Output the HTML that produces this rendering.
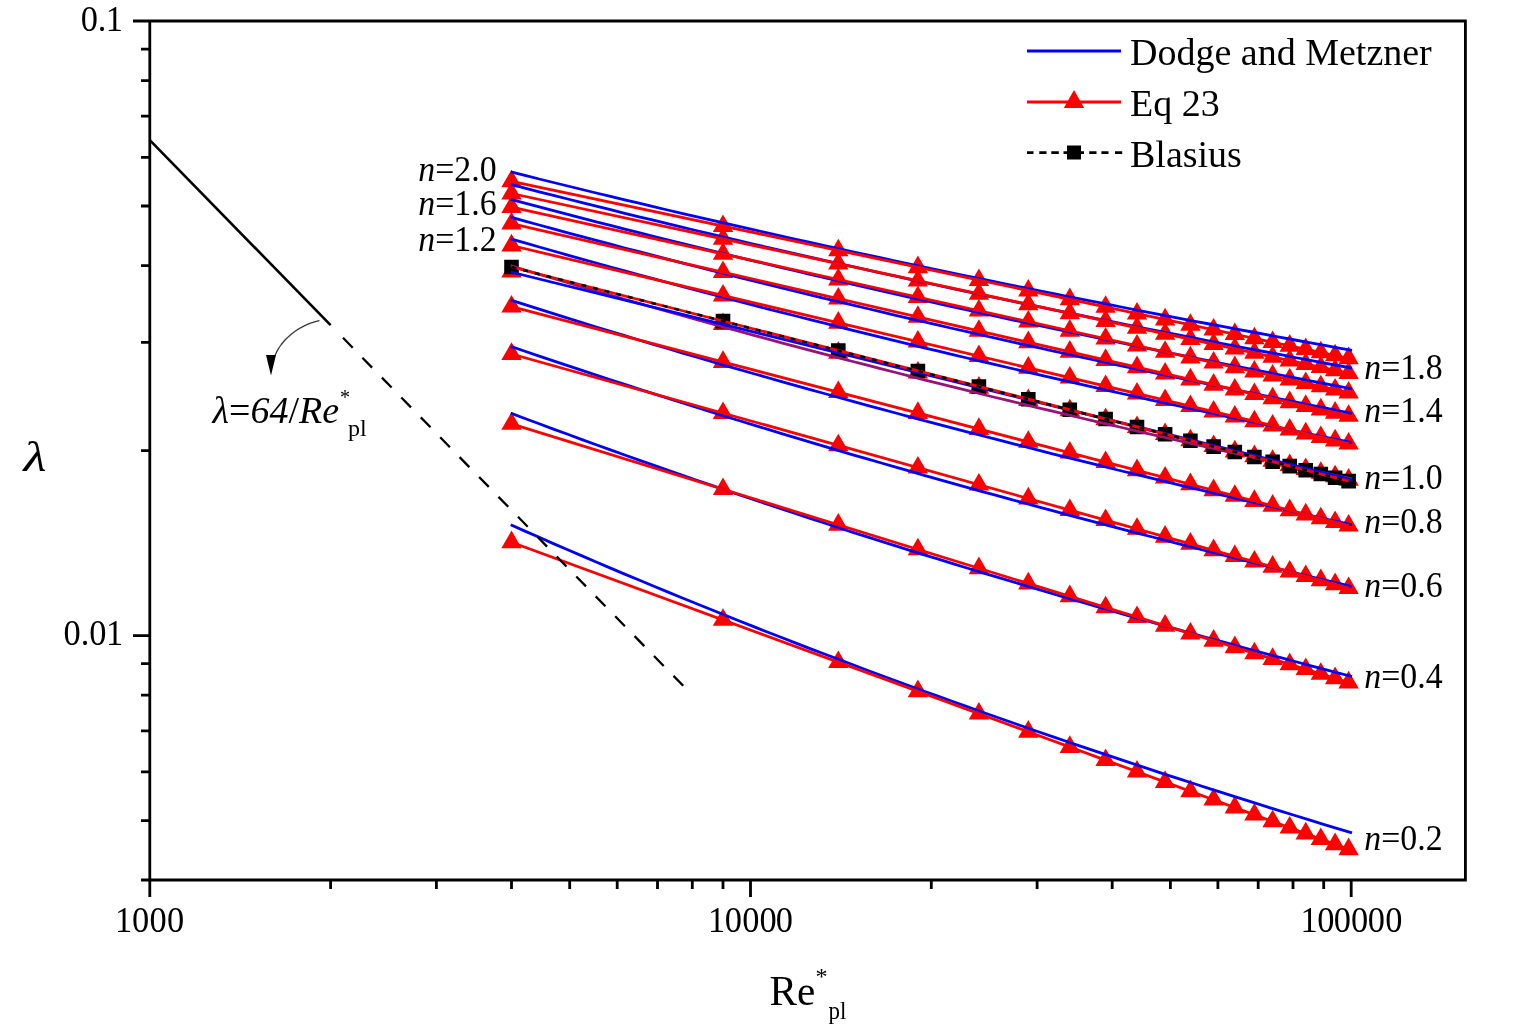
<!DOCTYPE html>
<html><head><meta charset="utf-8"><title>Friction factor chart</title>
<style>
html,body{margin:0;padding:0;background:#fff;}
body{width:1525px;height:1030px;overflow:hidden;}
svg{display:block;}
text{font-family:"Liberation Serif","Times New Roman",serif;fill:#000;}
</style></head><body>
<svg width="1525" height="1030" viewBox="0 0 1525 1030">
<rect x="0" y="0" width="1525" height="1030" fill="#fff"/>

<path id="eq23sym" d="M511.5 530.6L521.7 548.2L501.3 548.2ZM723.0 608.2L733.2 625.8L712.8 625.8ZM838.3 650.4L848.5 668.0L828.1 668.0ZM917.9 679.6L928.1 697.2L907.7 697.2ZM978.9 702.0L989.1 719.6L968.7 719.6ZM1028.3 720.1L1038.5 737.7L1018.1 737.7ZM1069.8 735.3L1080.0 752.9L1059.6 752.9ZM1105.6 748.4L1115.8 766.0L1095.4 766.0ZM1137.0 760.0L1147.2 777.6L1126.8 777.6ZM1165.1 770.3L1175.3 787.9L1154.9 787.9ZM1190.4 779.6L1200.6 797.2L1180.2 797.2ZM1213.6 788.0L1223.8 805.6L1203.4 805.6ZM1234.8 795.8L1245.0 813.4L1224.6 813.4ZM1254.4 803.0L1264.6 820.6L1244.2 820.6ZM1272.6 809.7L1282.8 827.3L1262.4 827.3ZM1289.7 816.0L1299.9 833.6L1279.5 833.6ZM1305.7 821.8L1315.9 839.4L1295.5 839.4ZM1320.8 827.4L1331.0 845.0L1310.6 845.0ZM1335.1 832.6L1345.3 850.2L1324.9 850.2ZM1348.6 837.6L1358.8 855.2L1338.4 855.2ZM511.5 412.2L521.7 429.8L501.3 429.8ZM723.0 477.5L733.2 495.1L712.8 495.1ZM838.3 513.1L848.5 530.7L828.1 530.7ZM917.9 537.7L928.1 555.3L907.7 555.3ZM978.9 556.6L989.1 574.2L968.7 574.2ZM1028.3 571.8L1038.5 589.4L1018.1 589.4ZM1069.8 584.6L1080.0 602.2L1059.6 602.2ZM1105.6 595.7L1115.8 613.3L1095.4 613.3ZM1137.0 605.4L1147.2 623.0L1126.8 623.0ZM1165.1 614.1L1175.3 631.7L1154.9 631.7ZM1190.4 621.9L1200.6 639.5L1180.2 639.5ZM1213.6 629.1L1223.8 646.7L1203.4 646.7ZM1234.8 635.6L1245.0 653.2L1224.6 653.2ZM1254.4 641.7L1264.6 659.3L1244.2 659.3ZM1272.6 647.3L1282.8 664.9L1262.4 664.9ZM1289.7 652.6L1299.9 670.2L1279.5 670.2ZM1305.7 657.5L1315.9 675.1L1295.5 675.1ZM1320.8 662.2L1331.0 679.8L1310.6 679.8ZM1335.1 666.6L1345.3 684.2L1324.9 684.2ZM1348.6 670.8L1358.8 688.4L1338.4 688.4ZM511.5 342.3L521.7 359.9L501.3 359.9ZM723.0 401.4L733.2 419.0L712.8 419.0ZM838.3 433.7L848.5 451.3L828.1 451.3ZM917.9 455.9L928.1 473.5L907.7 473.5ZM978.9 473.0L989.1 490.6L968.7 490.6ZM1028.3 486.8L1038.5 504.4L1018.1 504.4ZM1069.8 498.4L1080.0 516.0L1059.6 516.0ZM1105.6 508.4L1115.8 526.0L1095.4 526.0ZM1137.0 517.2L1147.2 534.8L1126.8 534.8ZM1165.1 525.1L1175.3 542.7L1154.9 542.7ZM1190.4 532.1L1200.6 549.7L1180.2 549.7ZM1213.6 538.6L1223.8 556.2L1203.4 556.2ZM1234.8 544.5L1245.0 562.1L1224.6 562.1ZM1254.4 550.0L1264.6 567.6L1244.2 567.6ZM1272.6 555.1L1282.8 572.7L1262.4 572.7ZM1289.7 559.9L1299.9 577.5L1279.5 577.5ZM1305.7 564.4L1315.9 582.0L1295.5 582.0ZM1320.8 568.6L1331.0 586.2L1310.6 586.2ZM1335.1 572.6L1345.3 590.2L1324.9 590.2ZM1348.6 576.4L1358.8 594.0L1338.4 594.0ZM511.5 295.0L521.7 312.6L501.3 312.6ZM723.0 350.3L733.2 367.9L712.8 367.9ZM838.3 380.5L848.5 398.1L828.1 398.1ZM917.9 401.3L928.1 418.9L907.7 418.9ZM978.9 417.3L989.1 434.9L968.7 434.9ZM1028.3 430.2L1038.5 447.8L1018.1 447.8ZM1069.8 441.0L1080.0 458.6L1059.6 458.6ZM1105.6 450.4L1115.8 468.0L1095.4 468.0ZM1137.0 458.6L1147.2 476.2L1126.8 476.2ZM1165.1 466.0L1175.3 483.6L1154.9 483.6ZM1190.4 472.6L1200.6 490.2L1180.2 490.2ZM1213.6 478.6L1223.8 496.2L1203.4 496.2ZM1234.8 484.2L1245.0 501.8L1224.6 501.8ZM1254.4 489.3L1264.6 506.9L1244.2 506.9ZM1272.6 494.1L1282.8 511.7L1262.4 511.7ZM1289.7 498.6L1299.9 516.2L1279.5 516.2ZM1305.7 502.8L1315.9 520.4L1295.5 520.4ZM1320.8 506.7L1331.0 524.3L1310.6 524.3ZM1335.1 510.4L1345.3 528.0L1324.9 528.0ZM1348.6 514.0L1358.8 531.6L1338.4 531.6ZM511.5 259.9L521.7 277.5L501.3 277.5ZM723.0 312.5L733.2 330.1L712.8 330.1ZM838.3 341.2L848.5 358.8L828.1 358.8ZM917.9 361.0L928.1 378.6L907.7 378.6ZM978.9 376.1L989.1 393.7L968.7 393.7ZM1028.3 388.4L1038.5 406.0L1018.1 406.0ZM1069.8 398.7L1080.0 416.3L1059.6 416.3ZM1105.6 407.6L1115.8 425.2L1095.4 425.2ZM1137.0 415.5L1147.2 433.1L1126.8 433.1ZM1165.1 422.4L1175.3 440.0L1154.9 440.0ZM1190.4 428.7L1200.6 446.3L1180.2 446.3ZM1213.6 434.5L1223.8 452.1L1203.4 452.1ZM1234.8 439.8L1245.0 457.4L1224.6 457.4ZM1254.4 444.6L1264.6 462.2L1244.2 462.2ZM1272.6 449.2L1282.8 466.8L1262.4 466.8ZM1289.7 453.4L1299.9 471.0L1279.5 471.0ZM1305.7 457.4L1315.9 475.0L1295.5 475.0ZM1320.8 461.2L1331.0 478.8L1310.6 478.8ZM1335.1 464.7L1345.3 482.3L1324.9 482.3ZM1348.6 468.1L1358.8 485.7L1338.4 485.7ZM511.5 233.8L521.7 251.4L501.3 251.4ZM723.0 283.9L733.2 301.5L712.8 301.5ZM838.3 311.1L848.5 328.7L828.1 328.7ZM917.9 330.0L928.1 347.6L907.7 347.6ZM978.9 344.4L989.1 362.0L968.7 362.0ZM1028.3 356.1L1038.5 373.7L1018.1 373.7ZM1069.8 366.0L1080.0 383.6L1059.6 383.6ZM1105.6 374.4L1115.8 392.0L1095.4 392.0ZM1137.0 381.9L1147.2 399.5L1126.8 399.5ZM1165.1 388.5L1175.3 406.1L1154.9 406.1ZM1190.4 394.5L1200.6 412.1L1180.2 412.1ZM1213.6 400.0L1223.8 417.6L1203.4 417.6ZM1234.8 405.0L1245.0 422.6L1224.6 422.6ZM1254.4 409.7L1264.6 427.3L1244.2 427.3ZM1272.6 414.0L1282.8 431.6L1262.4 431.6ZM1289.7 418.0L1299.9 435.6L1279.5 435.6ZM1305.7 421.8L1315.9 439.4L1295.5 439.4ZM1320.8 425.4L1331.0 443.0L1310.6 443.0ZM1335.1 428.8L1345.3 446.4L1324.9 446.4ZM1348.6 432.0L1358.8 449.6L1338.4 449.6ZM511.5 211.9L521.7 229.5L501.3 229.5ZM723.0 260.5L733.2 278.1L712.8 278.1ZM838.3 286.9L848.5 304.5L828.1 304.5ZM917.9 305.2L928.1 322.8L907.7 322.8ZM978.9 319.2L989.1 336.8L968.7 336.8ZM1028.3 330.6L1038.5 348.2L1018.1 348.2ZM1069.8 340.1L1080.0 357.7L1059.6 357.7ZM1105.6 348.3L1115.8 365.9L1095.4 365.9ZM1137.0 355.6L1147.2 373.2L1126.8 373.2ZM1165.1 362.0L1175.3 379.6L1154.9 379.6ZM1190.4 367.8L1200.6 385.4L1180.2 385.4ZM1213.6 373.1L1223.8 390.7L1203.4 390.7ZM1234.8 378.0L1245.0 395.6L1224.6 395.6ZM1254.4 382.5L1264.6 400.1L1244.2 400.1ZM1272.6 386.7L1282.8 404.3L1262.4 404.3ZM1289.7 390.6L1299.9 408.2L1279.5 408.2ZM1305.7 394.3L1315.9 411.9L1295.5 411.9ZM1320.8 397.8L1331.0 415.4L1310.6 415.4ZM1335.1 401.1L1345.3 418.7L1324.9 418.7ZM1348.6 404.2L1358.8 421.8L1338.4 421.8ZM511.5 195.4L521.7 213.0L501.3 213.0ZM723.0 242.2L733.2 259.8L712.8 259.8ZM838.3 267.8L848.5 285.4L828.1 285.4ZM917.9 285.4L928.1 303.0L907.7 303.0ZM978.9 298.9L989.1 316.5L968.7 316.5ZM1028.3 309.9L1038.5 327.5L1018.1 327.5ZM1069.8 319.1L1080.0 336.7L1059.6 336.7ZM1105.6 327.0L1115.8 344.6L1095.4 344.6ZM1137.0 334.0L1147.2 351.6L1126.8 351.6ZM1165.1 340.2L1175.3 357.8L1154.9 357.8ZM1190.4 345.8L1200.6 363.4L1180.2 363.4ZM1213.6 350.9L1223.8 368.5L1203.4 368.5ZM1234.8 355.6L1245.0 373.2L1224.6 373.2ZM1254.4 360.0L1264.6 377.6L1244.2 377.6ZM1272.6 364.0L1282.8 381.6L1262.4 381.6ZM1289.7 367.8L1299.9 385.4L1279.5 385.4ZM1305.7 371.4L1315.9 389.0L1295.5 389.0ZM1320.8 374.7L1331.0 392.3L1310.6 392.3ZM1335.1 377.9L1345.3 395.5L1324.9 395.5ZM1348.6 380.9L1358.8 398.5L1338.4 398.5ZM511.5 181.8L521.7 199.4L501.3 199.4ZM723.0 227.2L733.2 244.8L712.8 244.8ZM838.3 251.9L848.5 269.5L828.1 269.5ZM917.9 269.0L928.1 286.6L907.7 286.6ZM978.9 282.1L989.1 299.7L968.7 299.7ZM1028.3 292.7L1038.5 310.3L1018.1 310.3ZM1069.8 301.6L1080.0 319.2L1059.6 319.2ZM1105.6 309.3L1115.8 326.9L1095.4 326.9ZM1137.0 316.1L1147.2 333.7L1126.8 333.7ZM1165.1 322.1L1175.3 339.7L1154.9 339.7ZM1190.4 327.5L1200.6 345.1L1180.2 345.1ZM1213.6 332.5L1223.8 350.1L1203.4 350.1ZM1234.8 337.0L1245.0 354.6L1224.6 354.6ZM1254.4 341.2L1264.6 358.8L1244.2 358.8ZM1272.6 345.2L1282.8 362.8L1262.4 362.8ZM1289.7 348.8L1299.9 366.4L1279.5 366.4ZM1305.7 352.3L1315.9 369.9L1295.5 369.9ZM1320.8 355.5L1331.0 373.1L1310.6 373.1ZM1335.1 358.6L1345.3 376.2L1324.9 376.2ZM1348.6 361.5L1358.8 379.1L1338.4 379.1ZM511.5 169.7L521.7 187.3L501.3 187.3ZM723.0 214.4L733.2 232.0L712.8 232.0ZM838.3 238.7L848.5 256.3L828.1 256.3ZM917.9 255.6L928.1 273.2L907.7 273.2ZM978.9 268.4L989.1 286.0L968.7 286.0ZM1028.3 278.9L1038.5 296.5L1018.1 296.5ZM1069.8 287.6L1080.0 305.2L1059.6 305.2ZM1105.6 295.2L1115.8 312.8L1095.4 312.8ZM1137.0 301.9L1147.2 319.5L1126.8 319.5ZM1165.1 307.8L1175.3 325.4L1154.9 325.4ZM1190.4 313.2L1200.6 330.8L1180.2 330.8ZM1213.6 318.0L1223.8 335.6L1203.4 335.6ZM1234.8 322.5L1245.0 340.1L1224.6 340.1ZM1254.4 326.7L1264.6 344.3L1244.2 344.3ZM1272.6 330.5L1282.8 348.1L1262.4 348.1ZM1289.7 334.1L1299.9 351.7L1279.5 351.7ZM1305.7 337.5L1315.9 355.1L1295.5 355.1ZM1320.8 340.7L1331.0 358.3L1310.6 358.3ZM1335.1 343.7L1345.3 361.3L1324.9 361.3ZM1348.6 346.6L1358.8 364.2L1338.4 364.2Z" fill="#f00"/>
<path id="blassym" d="M504.2 259.7h14.6v14.6h-14.6ZM715.7 313.8h14.6v14.6h-14.6ZM831.0 343.3h14.6v14.6h-14.6ZM910.6 363.7h14.6v14.6h-14.6ZM971.6 379.3h14.6v14.6h-14.6ZM1021.0 391.9h14.6v14.6h-14.6ZM1062.5 402.5h14.6v14.6h-14.6ZM1098.3 411.7h14.6v14.6h-14.6ZM1129.7 419.7h14.6v14.6h-14.6ZM1157.8 426.9h14.6v14.6h-14.6ZM1183.1 433.4h14.6v14.6h-14.6ZM1206.3 439.3h14.6v14.6h-14.6ZM1227.5 444.7h14.6v14.6h-14.6ZM1247.1 449.7h14.6v14.6h-14.6ZM1265.3 454.4h14.6v14.6h-14.6ZM1282.4 458.8h14.6v14.6h-14.6ZM1298.4 462.9h14.6v14.6h-14.6ZM1313.5 466.7h14.6v14.6h-14.6ZM1327.8 470.4h14.6v14.6h-14.6ZM1341.3 473.8h14.6v14.6h-14.6Z" fill="#000"/>
<g id="dm" fill="none" stroke="#00f" stroke-width="2.8">
<polyline points="510.7,524.7 524.9,531.1 539.2,537.3 553.4,543.6 567.7,549.8 582.0,555.9 596.2,562.0 610.5,568.1 624.7,574.1 639.0,580.0 653.3,586.0 667.5,591.9 681.8,597.7 696.0,603.5 710.3,609.3 724.6,615.0 738.8,620.7 753.1,626.4 767.3,632.0 781.6,637.5 795.9,643.1 810.1,648.6 824.4,654.0 838.6,659.4 852.9,664.8 867.2,670.2 881.4,675.5 895.7,680.8 909.9,686.0 924.2,691.2 938.5,696.4 952.7,701.5 967.0,706.6 981.2,711.7 995.5,716.8 1009.8,721.8 1024.0,726.7 1038.3,731.7 1052.5,736.6 1066.8,741.5 1081.1,746.3 1095.3,751.1 1109.6,755.9 1123.8,760.7 1138.1,765.4 1152.4,770.1 1166.6,774.8 1180.9,779.4 1195.1,784.0 1209.4,788.6 1223.7,793.2 1237.9,797.7 1252.2,802.2 1266.4,806.7 1280.7,811.1 1295.0,815.5 1309.2,819.9 1323.5,824.3 1337.7,828.6 1352.0,832.9"/>
<polyline points="510.7,413.1 524.9,418.5 539.2,423.8 553.4,429.1 567.7,434.3 582.0,439.6 596.2,444.7 610.5,449.9 624.7,455.0 639.0,460.1 653.3,465.1 667.5,470.1 681.8,475.1 696.0,480.0 710.3,484.9 724.6,489.8 738.8,494.7 753.1,499.5 767.3,504.2 781.6,509.0 795.9,513.7 810.1,518.4 824.4,523.0 838.6,527.7 852.9,532.3 867.2,536.8 881.4,541.4 895.7,545.9 909.9,550.4 924.2,554.8 938.5,559.2 952.7,563.6 967.0,568.0 981.2,572.3 995.5,576.6 1009.8,580.9 1024.0,585.2 1038.3,589.4 1052.5,593.6 1066.8,597.8 1081.1,602.0 1095.3,606.1 1109.6,610.2 1123.8,614.3 1138.1,618.4 1152.4,622.4 1166.6,626.4 1180.9,630.4 1195.1,634.4 1209.4,638.3 1223.7,642.2 1237.9,646.1 1252.2,650.0 1266.4,653.9 1280.7,657.7 1295.0,661.5 1309.2,665.3 1323.5,669.1 1337.7,672.8 1352.0,676.5"/>
<polyline points="510.7,346.4 524.9,351.3 539.2,356.1 553.4,360.9 567.7,365.7 582.0,370.4 596.2,375.1 610.5,379.8 624.7,384.4 639.0,389.1 653.3,393.6 667.5,398.2 681.8,402.7 696.0,407.2 710.3,411.7 724.6,416.1 738.8,420.5 753.1,424.9 767.3,429.2 781.6,433.6 795.9,437.8 810.1,442.1 824.4,446.4 838.6,450.6 852.9,454.8 867.2,458.9 881.4,463.0 895.7,467.2 909.9,471.2 924.2,475.3 938.5,479.3 952.7,483.3 967.0,487.3 981.2,491.3 995.5,495.2 1009.8,499.1 1024.0,503.0 1038.3,506.9 1052.5,510.7 1066.8,514.6 1081.1,518.4 1095.3,522.1 1109.6,525.9 1123.8,529.6 1138.1,533.3 1152.4,537.0 1166.6,540.7 1180.9,544.4 1195.1,548.0 1209.4,551.6 1223.7,555.2 1237.9,558.8 1252.2,562.3 1266.4,565.8 1280.7,569.3 1295.0,572.8 1309.2,576.3 1323.5,579.8 1337.7,583.2 1352.0,586.6"/>
<polyline points="510.7,300.2 524.9,304.7 539.2,309.2 553.4,313.7 567.7,318.2 582.0,322.6 596.2,327.0 610.5,331.4 624.7,335.7 639.0,340.0 653.3,344.3 667.5,348.5 681.8,352.8 696.0,357.0 710.3,361.1 724.6,365.3 738.8,369.4 753.1,373.5 767.3,377.5 781.6,381.6 795.9,385.6 810.1,389.6 824.4,393.5 838.6,397.5 852.9,401.4 867.2,405.3 881.4,409.1 895.7,413.0 909.9,416.8 924.2,420.6 938.5,424.4 952.7,428.1 967.0,431.8 981.2,435.5 995.5,439.2 1009.8,442.9 1024.0,446.5 1038.3,450.2 1052.5,453.8 1066.8,457.3 1081.1,460.9 1095.3,464.4 1109.6,468.0 1123.8,471.5 1138.1,474.9 1152.4,478.4 1166.6,481.8 1180.9,485.3 1195.1,488.7 1209.4,492.1 1223.7,495.4 1237.9,498.8 1252.2,502.1 1266.4,505.4 1280.7,508.7 1295.0,512.0 1309.2,515.2 1323.5,518.5 1337.7,521.7 1352.0,524.9"/>
<polyline points="510.7,265.7 524.9,270.0 539.2,274.3 553.4,278.5 567.7,282.7 582.0,286.9 596.2,291.1 610.5,295.2 624.7,299.3 639.0,303.4 653.3,307.5 667.5,311.5 681.8,315.5 696.0,319.5 710.3,323.4 724.6,327.3 738.8,331.2 753.1,335.1 767.3,338.9 781.6,342.8 795.9,346.6 810.1,350.4 824.4,354.1 838.6,357.8 852.9,361.5 867.2,365.2 881.4,368.9 895.7,372.5 909.9,376.2 924.2,379.8 938.5,383.3 952.7,386.9 967.0,390.4 981.2,394.0 995.5,397.5 1009.8,400.9 1024.0,404.4 1038.3,407.8 1052.5,411.2 1066.8,414.6 1081.1,418.0 1095.3,421.4 1109.6,424.7 1123.8,428.0 1138.1,431.3 1152.4,434.6 1166.6,437.9 1180.9,441.2 1195.1,444.4 1209.4,447.6 1223.7,450.8 1237.9,454.0 1252.2,457.2 1266.4,460.3 1280.7,463.4 1295.0,466.6 1309.2,469.7 1323.5,472.7 1337.7,475.8 1352.0,478.9" stroke="#9a1276"/>
<line x1="510.8" y1="272" x2="1352" y2="479.8"/>
<polyline points="510.7,238.8 524.9,242.9 539.2,247.0 553.4,251.0 567.7,255.1 582.0,259.1 596.2,263.0 610.5,267.0 624.7,270.9 639.0,274.8 653.3,278.7 667.5,282.5 681.8,286.3 696.0,290.1 710.3,293.9 724.6,297.6 738.8,301.4 753.1,305.1 767.3,308.8 781.6,312.4 795.9,316.0 810.1,319.7 824.4,323.2 838.6,326.8 852.9,330.4 867.2,333.9 881.4,337.4 895.7,340.9 909.9,344.3 924.2,347.8 938.5,351.2 952.7,354.6 967.0,358.0 981.2,361.4 995.5,364.7 1009.8,368.0 1024.0,371.3 1038.3,374.6 1052.5,377.9 1066.8,381.2 1081.1,384.4 1095.3,387.6 1109.6,390.8 1123.8,394.0 1138.1,397.2 1152.4,400.3 1166.6,403.4 1180.9,406.5 1195.1,409.6 1209.4,412.7 1223.7,415.8 1237.9,418.8 1252.2,421.9 1266.4,424.9 1280.7,427.9 1295.0,430.9 1309.2,433.8 1323.5,436.8 1337.7,439.7 1352.0,442.7"/>
<polyline points="510.7,217.1 524.9,221.1 539.2,225.0 553.4,228.9 567.7,232.8 582.0,236.6 596.2,240.4 610.5,244.2 624.7,248.0 639.0,251.7 653.3,255.4 667.5,259.1 681.8,262.8 696.0,266.5 710.3,270.1 724.6,273.7 738.8,277.3 753.1,280.8 767.3,284.4 781.6,287.9 795.9,291.4 810.1,294.8 824.4,298.3 838.6,301.7 852.9,305.1 867.2,308.5 881.4,311.9 895.7,315.3 909.9,318.6 924.2,321.9 938.5,325.2 952.7,328.5 967.0,331.7 981.2,335.0 995.5,338.2 1009.8,341.4 1024.0,344.6 1038.3,347.7 1052.5,350.9 1066.8,354.0 1081.1,357.1 1095.3,360.2 1109.6,363.3 1123.8,366.4 1138.1,369.4 1152.4,372.5 1166.6,375.5 1180.9,378.5 1195.1,381.5 1209.4,384.4 1223.7,387.4 1237.9,390.3 1252.2,393.2 1266.4,396.1 1280.7,399.0 1295.0,401.9 1309.2,404.8 1323.5,407.6 1337.7,410.5 1352.0,413.3"/>
<polyline points="510.7,199.3 524.9,203.1 539.2,206.9 553.4,210.7 567.7,214.4 582.0,218.1 596.2,221.8 610.5,225.4 624.7,229.1 639.0,232.7 653.3,236.3 667.5,239.9 681.8,243.4 696.0,246.9 710.3,250.4 724.6,253.9 738.8,257.4 753.1,260.8 767.3,264.2 781.6,267.6 795.9,271.0 810.1,274.3 824.4,277.7 838.6,281.0 852.9,284.3 867.2,287.6 881.4,290.8 895.7,294.1 909.9,297.3 924.2,300.5 938.5,303.7 952.7,306.8 967.0,310.0 981.2,313.1 995.5,316.2 1009.8,319.3 1024.0,322.4 1038.3,325.4 1052.5,328.5 1066.8,331.5 1081.1,334.5 1095.3,337.5 1109.6,340.5 1123.8,343.5 1138.1,346.4 1152.4,349.3 1166.6,352.3 1180.9,355.2 1195.1,358.0 1209.4,360.9 1223.7,363.8 1237.9,366.6 1252.2,369.4 1266.4,372.2 1280.7,375.0 1295.0,377.8 1309.2,380.6 1323.5,383.4 1337.7,386.1 1352.0,388.8"/>
<polyline points="510.7,184.4 524.9,188.1 539.2,191.8 553.4,195.4 567.7,199.0 582.0,202.6 596.2,206.2 610.5,209.7 624.7,213.3 639.0,216.8 653.3,220.2 667.5,223.7 681.8,227.1 696.0,230.5 710.3,233.9 724.6,237.3 738.8,240.7 753.1,244.0 767.3,247.3 781.6,250.6 795.9,253.9 810.1,257.1 824.4,260.3 838.6,263.5 852.9,266.7 867.2,269.9 881.4,273.1 895.7,276.2 909.9,279.3 924.2,282.4 938.5,285.5 952.7,288.6 967.0,291.6 981.2,294.7 995.5,297.7 1009.8,300.7 1024.0,303.7 1038.3,306.6 1052.5,309.6 1066.8,312.5 1081.1,315.4 1095.3,318.3 1109.6,321.2 1123.8,324.1 1138.1,327.0 1152.4,329.8 1166.6,332.6 1180.9,335.4 1195.1,338.2 1209.4,341.0 1223.7,343.8 1237.9,346.6 1252.2,349.3 1266.4,352.0 1280.7,354.7 1295.0,357.5 1309.2,360.1 1323.5,362.8 1337.7,365.5 1352.0,368.1"/>
<polyline points="510.7,171.9 524.9,175.4 539.2,179.0 553.4,182.5 567.7,186.0 582.0,189.5 596.2,193.0 610.5,196.4 624.7,199.8 639.0,203.2 653.3,206.6 667.5,210.0 681.8,213.3 696.0,216.6 710.3,219.9 724.6,223.2 738.8,226.4 753.1,229.7 767.3,232.9 781.6,236.1 795.9,239.3 810.1,242.4 824.4,245.6 838.6,248.7 852.9,251.8 867.2,254.9 881.4,257.9 895.7,261.0 909.9,264.0 924.2,267.0 938.5,270.0 952.7,273.0 967.0,276.0 981.2,278.9 995.5,281.9 1009.8,284.8 1024.0,287.7 1038.3,290.6 1052.5,293.4 1066.8,296.3 1081.1,299.1 1095.3,301.9 1109.6,304.7 1123.8,307.5 1138.1,310.3 1152.4,313.1 1166.6,315.8 1180.9,318.6 1195.1,321.3 1209.4,324.0 1223.7,326.7 1237.9,329.4 1252.2,332.0 1266.4,334.7 1280.7,337.3 1295.0,340.0 1309.2,342.6 1323.5,345.2 1337.7,347.8 1352.0,350.4"/>
</g>
<g id="eq23lines" stroke="#f00" stroke-width="2.8">
<line x1="511.5" y1="542.3" x2="1348.6" y2="849.3"/>
<line x1="511.5" y1="423.9" x2="1348.6" y2="682.5"/>
<line x1="511.5" y1="354.0" x2="1348.6" y2="588.1"/>
<line x1="511.5" y1="306.7" x2="1348.6" y2="525.7"/>
<line x1="511.5" y1="267.0" x2="1348.6" y2="481.1"/>
<line x1="511.5" y1="245.5" x2="1348.6" y2="443.7"/>
<line x1="511.5" y1="223.6" x2="1348.6" y2="415.9"/>
<line x1="511.5" y1="207.1" x2="1348.6" y2="392.6"/>
<line x1="511.5" y1="193.5" x2="1348.6" y2="373.2"/>
<line x1="511.5" y1="181.4" x2="1348.6" y2="358.3"/>
</g>
<polyline id="blasline" points="511.5,267.0 723.0,321.1 838.3,350.6 917.9,371.0 978.9,386.6 1028.3,399.2 1069.8,409.8 1105.6,419.0 1137.0,427.0 1165.1,434.2 1190.4,440.7 1213.6,446.6 1234.8,452.0 1254.4,457.0 1272.6,461.7 1289.7,466.1 1305.7,470.2 1320.8,474.0 1335.1,477.7 1348.6,481.1" fill="none" stroke="#000" stroke-width="2.5" stroke-dasharray="5 7"/>
<line x1="149.8" y1="140.1" x2="330.6" y2="325.1" stroke="#000" stroke-width="2.6"/>
<path d="M343.0 337.8L352.7 347.7M362.4 357.7L372.1 367.6M381.9 377.6L391.6 387.5M401.3 397.5L411.0 407.4M420.8 417.4L430.5 427.3M440.2 437.2L449.9 447.2M459.6 457.1L469.3 467.1M479.1 477.0L488.8 486.9M498.5 496.9L508.2 506.8M518.0 516.8L527.7 526.7M537.4 536.7L547.1 546.6M556.8 556.6L566.5 566.5M576.3 576.5L586.0 586.4M595.7 596.4L605.4 606.3M615.2 616.3L624.9 626.2M634.6 636.1L644.3 646.1M654.0 656.0L663.7 666.0M673.5 675.9L683.2 685.8" stroke="#000" stroke-width="2.3" fill="none"/>
<path d="M319.5 320.6 L317.1 321.2 L314.6 321.8 L312.2 322.6 L309.9 323.4 L307.5 324.4 L305.2 325.4 L302.9 326.6 L300.6 327.8 L298.4 329.1 L296.2 330.5 L294.1 332.0 L292.1 333.5 L290.1 335.2 L288.2 336.9 L286.3 338.7 L284.6 340.5 L282.9 342.5 L281.3 344.5 L279.9 346.5 L278.5 348.6 L277.2 350.8 L276.1 353.1 L275.1 355.4" fill="none" stroke="#3a3a3a" stroke-width="1.3" stroke-linejoin="round"/>
<path d="M266 355 L276 355 L271 375.5 Z" fill="#000"/>
<path d="M149.8 19.6V897M133 21.0H1466.8M1465.4 21.0V880.0M141 880.0H1466.8M133 635.6H149.8M141 450.6H149.8M141 342.4H149.8M141 265.6H149.8M141 206.0H149.8M141 157.3H149.8M141 116.2H149.8M141 80.6H149.8M141 49.1H149.8M141 820.6H149.8M141 771.9H149.8M141 730.8H149.8M141 695.2H149.8M141 663.7H149.8M750.5 880.0V897M1351.2 880.0V897M330.6 880.0V889M436.4 880.0V889M511.5 880.0V889M569.7 880.0V889M617.2 880.0V889M657.5 880.0V889M692.3 880.0V889M723.0 880.0V889M931.3 880.0V889M1037.1 880.0V889M1112.2 880.0V889M1170.4 880.0V889M1217.9 880.0V889M1258.2 880.0V889M1293.0 880.0V889M1323.7 880.0V889" stroke="#000" stroke-width="2.8" fill="none"/>
<text transform="scale(0.955,1)" x="84.51 102.36 110.76" y="30.8" font-size="36">0.1</text>
<text transform="scale(0.955,1)" x="66.44 84.56 93.56 111.07" y="645.0" font-size="36">0.01</text>
<text transform="scale(0.955,1)" x="120.50 138.17 156.50 174.92" y="932.3" font-size="36">1000</text>
<text transform="scale(0.955,1)" x="741.34 759.01 777.23 795.24 812.41" y="932.0" font-size="36">10000</text>
<text transform="scale(0.955,1)" x="1361.75 1379.43 1396.60 1414.61 1432.10 1450.53" y="932.0" font-size="36">100000</text>
<text transform="translate(27.3,471.3) scale(1.25,1)" x="-3.1" y="0" font-size="42.5" font-style="italic">λ</text>
<text transform="translate(769.5,1004.5) scale(0.97,1)" font-size="42.5">Re</text>
<text x="815.5" y="984" font-size="24">*</text>
<text transform="translate(828.5,1019) scale(0.9,1)" font-size="25.5">pl</text>
<text x="212.5" y="422.8" font-size="38" font-style="italic">λ<tspan font-style="normal">=</tspan>64<tspan font-style="normal">/</tspan>Re</text>
<text x="340" y="404" font-size="20">*</text>
<text x="348" y="436" font-size="24">pl</text>
<text transform="translate(418.3,181.2) scale(0.962,1)" font-size="35.2"><tspan font-style="italic">n</tspan>=2.0</text>
<text transform="translate(418.3,215.0) scale(0.962,1)" font-size="35.2"><tspan font-style="italic">n</tspan>=1.6</text>
<text transform="translate(418.3,250.6) scale(0.962,1)" font-size="35.2"><tspan font-style="italic">n</tspan>=1.2</text>
<text transform="translate(1364.3,379.1) scale(0.962,1)" font-size="35.2"><tspan font-style="italic">n</tspan>=1.8</text>
<text transform="translate(1364.3,421.6) scale(0.962,1)" font-size="35.2"><tspan font-style="italic">n</tspan>=1.4</text>
<text transform="translate(1364.3,489.0) scale(0.962,1)" font-size="35.2"><tspan font-style="italic">n</tspan>=1.0</text>
<text transform="translate(1364.3,532.6) scale(0.962,1)" font-size="35.2"><tspan font-style="italic">n</tspan>=0.8</text>
<text transform="translate(1364.3,596.8) scale(0.962,1)" font-size="35.2"><tspan font-style="italic">n</tspan>=0.6</text>
<text transform="translate(1364.3,687.6) scale(0.962,1)" font-size="35.2"><tspan font-style="italic">n</tspan>=0.4</text>
<text transform="translate(1364.3,849.8) scale(0.962,1)" font-size="35.2"><tspan font-style="italic">n</tspan>=0.2</text>
<g id="legend">
<line x1="1027" y1="51" x2="1121" y2="51" stroke="#00f" stroke-width="2.8"/>
<line x1="1027" y1="102" x2="1121" y2="102" stroke="#f00" stroke-width="2.8"/>
<path d="M1074.0 90.0L1084.2 108.0L1063.8 108.0Z" fill="#f00"/>
<path d="M1027 152.6H1033.5M1039.3 152.6H1046.5M1051.3 152.6H1058.8M1063.5 152.6H1067M1081 152.6H1084M1089.2 152.6H1096.5M1101.4 152.6H1108.5M1115 152.6H1122.2" stroke="#000" stroke-width="2.6"/>
<rect x="1067" y="145.5" width="14" height="14" fill="#000"/>
<g font-size="38">
<text x="1130" y="65.4">Dodge and Metzner</text>
<text x="1130" y="116">Eq 23</text>
<text x="1130" y="166.5">Blasius</text>
</g></g>
</svg>
</body></html>
